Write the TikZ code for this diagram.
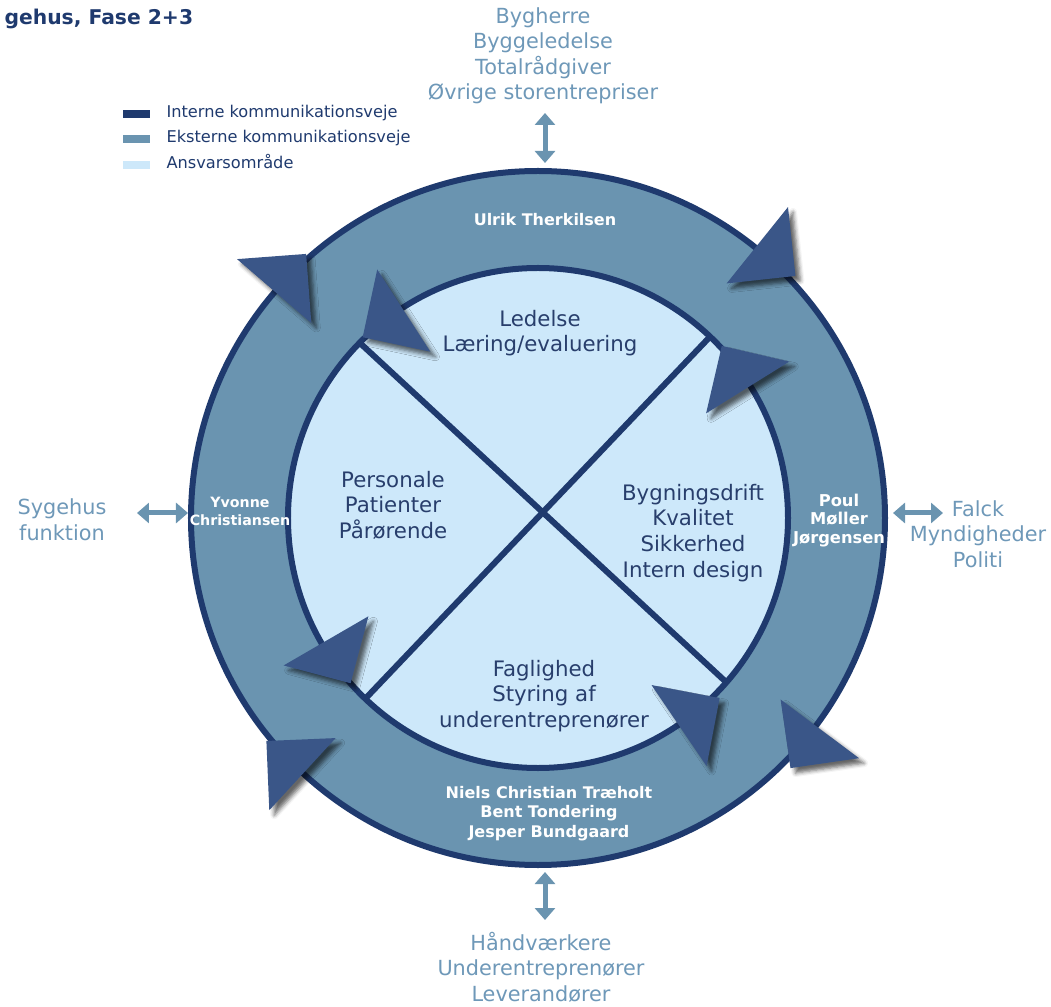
\documentclass[tikz,border=0pt]{standalone}
\usepackage{fontspec}
\setmainfont{DejaVu Sans}
\usetikzlibrary{arrows.meta,shadows.blur}

\definecolor{navy}{RGB}{31,58,110}
\definecolor{band}{RGB}{106,148,176}
\definecolor{area}{RGB}{205,232,250}
\definecolor{tip}{RGB}{58,86,136}
\definecolor{extern}{RGB}{110,152,184}
\definecolor{qtext}{RGB}{40,62,108}

\begin{document}
\begin{tikzpicture}[x=1pt,y=1pt,
    ring/.style={draw=navy,line width=6pt},
    tri/.style={fill=tip,blur shadow={shadow xshift=5pt,shadow yshift=-5pt,
                shadow blur radius=4pt,shadow opacity=60}},
    quad/.style={text=qtext,align=center,anchor=base,
                 font=\fontsize{21.3}{25.5}\selectfont},
    who/.style={text=white,align=center,anchor=base,
                font=\bfseries\fontsize{16}{19.5}\selectfont},
    ext/.style={text=extern,align=center,anchor=base,
                font=\fontsize{20.8}{25.5}\selectfont},
    link/.style={draw=band,line width=5pt,
                 {Triangle[width=20pt,length=12pt]}-{Triangle[width=20pt,length=12pt]}},
    legbox/.style={minimum width=27pt,minimum height=8pt,inner sep=0pt},
    legtext/.style={text=navy,anchor=base west,font=\fontsize{16.2}{19}\selectfont}]
  \useasboundingbox (-538,-488) rectangle (513,518);

%  the wheel
  \draw[ring,fill=band] (0,0) circle (347pt);
  \draw[ring,fill=area] (0,0) circle (250pt);

  \coordinate (ul) at (135.5:250);
  \coordinate (lr) at (-41.1:250);
  \coordinate (ur) at (46.5:250);
  \coordinate (ll) at (226.3:250);
  \draw[navy,line width=6pt] (ul) -- (lr);
  \draw[navy,line width=6pt] (ur) -- (ll);

%  outer arrows, clockwise
  \fill[tri,shift={(51.2:350)}]  (51.2:49)  -- (231.2:49) -- (-38.8:49) -- cycle;
  \fill[tri,shift={(139.3:348)}] (139.3:49) -- (319.3:49) -- (49.3:49)  -- cycle;
  \fill[tri,shift={(227.4:348)}] (227.4:49) -- (47.4:49)  -- (137.4:49) -- cycle;
  \fill[tri,shift={(323.2:352)}] (323.2:49) -- (143.2:49) -- (233.2:49) -- cycle;

%  inner arrows, counter clockwise
  \fill[tri,shift={(122.9:247)}] (122.9:49) -- (302.9:49) -- (212.9:49) -- cycle;
  \fill[tri,shift={(31.9:247)}]  (31.9:49)  -- (211.9:49) -- (121.9:49) -- cycle;
  \fill[tri,shift={(210.1:245)}] (210.1:49) -- (30.1:49)  -- (300.1:49) -- cycle;
  \fill[tri,shift={(304.2:251)}] (304.2:49) -- (124.2:49) -- (34.2:49)  -- cycle;

%  areas (anchor is the last line)
  \node[quad] (ledelse)  at (2,166)    {Ledelse\\Læring/evaluering};
  \node[quad] (personale) at (-145,-20) {Personale\\Patienter\\Pårørende};
  \node[quad] (drift)    at (155,-59)  {Bygningsdrift\\Kvalitet\\Sikkerhed\\Intern design};
  \node[quad] (faglig)   at (6,-209)   {Faglighed\\Styring af\\underentreprenører};

%  people
  \node[who] (ulrik)  at (7,292)   {Ulrik Therkilsen};
  \node[who,font=\bfseries\fontsize{14.2}{17}\selectfont] (yvonne) at (-298,-7) {Yvonne\\Christiansen};
  \node[who,font=\bfseries\fontsize{16.3}{18.2}\selectfont] (poul) at (301,-25) {Poul\\Møller\\Jørgensen};
  \node[who] (niels)  at (11,-319) {Niels Christian Træholt\\Bent Tondering\\Jesper Bundgaard};

%  outside
  \node[ext] (bygherre) at (5,418)    {Bygherre\\Byggeledelse\\Totalrådgiver\\Øvrige storentrepriser};
  \node[ext] (haandv)   at (3,-483)   {Håndværkere\\Underentreprenører\\Leverandører};
  \node[ext] (sygehus)  at (-476,-22) {Sygehus\\funktion};
  \node[ext] (falck)    at (440,-49)  {Falck\\Myndigheder\\Politi};

  \coordinate (topA) at (7,405);
  \coordinate (topB) at (7,355);
  \coordinate (botA) at (7,-354);
  \coordinate (botB) at (7,-402);
  \coordinate (lefA) at (-401,5);
  \coordinate (lefB) at (-350,5);
  \coordinate (rigA) at (355,5);
  \coordinate (rigB) at (405,5);
  \draw[link] (topA) -- (topB);
  \draw[link] (botA) -- (botB);
  \draw[link] (lefA) -- (lefB);
  \draw[link] (rigA) -- (rigB);

%  legend and title
  \node[anchor=base west,text=navy,font=\bfseries\fontsize{20.3}{24}\selectfont] (title) at (-537,493) {gehus, Fase 2+3};
  \node[legbox,fill=navy] (legint) at (-401.5,404) {};
  \node[legbox,fill=band] (legext) at (-401.5,379) {};
  \node[legbox,fill=area] (legomr) at (-401.5,353) {};
  \node[legtext] at (-375,400) {Interne kommunikationsveje};
  \node[legtext] at (-375,375) {Eksterne kommunikationsveje};
  \node[legtext] at (-375,349) {Ansvarsområde};
\end{tikzpicture}
\end{document}
